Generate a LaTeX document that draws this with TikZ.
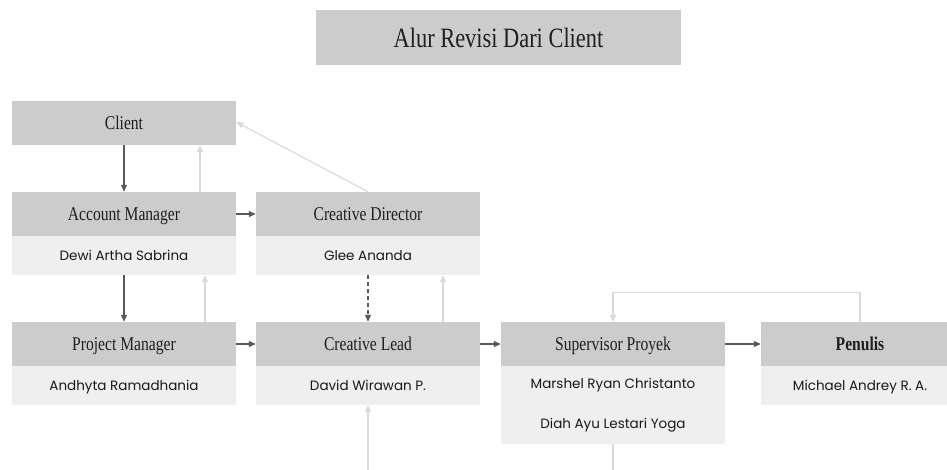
\documentclass[tikz,border=0pt]{standalone}
\usepackage{fontspec}
\usetikzlibrary{arrows.meta}
\newfontfamily\hdrfont{Liberation Serif}[FakeStretch=0.8]
\newfontfamily\subfont{Poppins}
\definecolor{hdrgray}{HTML}{CCCCCC}
\definecolor{subgray}{HTML}{EFEFEF}
\definecolor{darkln}{HTML}{595959}
\definecolor{lightln}{HTML}{DADADA}
\tikzset{
  hdr/.style={rectangle, fill=hdrgray, minimum width=224pt, minimum height=44pt, inner sep=0pt, font=\hdrfont\fontsize{19.5}{22}\selectfont, text=black!88, text height=17pt, text depth=4pt},
  subbox/.style={rectangle, fill=subgray, minimum width=224pt, minimum height=39pt, inner sep=0pt, font=\subfont\fontsize{13.5}{16}\selectfont, text=black!90, text height=12.5pt, text depth=3pt},
  darkarr/.style={draw=darkln, line width=1.2pt, -{Triangle[length=7pt,width=6pt]}},
  lightarr/.style={draw=lightln, line width=1.2pt, -{Triangle[length=7pt,width=6pt]}},
}
\begin{document}
\begin{tikzpicture}[x=1pt,y=-1pt]
\useasboundingbox (0,0) rectangle (947,470);
\clip (0,0) rectangle (947,470);
% title
\node[rectangle, fill=hdrgray, minimum width=365pt, minimum height=55pt, inner sep=0pt, font=\hdrfont\fontsize{28}{32}\selectfont, text=black!88, text height=26pt, text depth=6pt] (title) at (498.5,37.5) {Alur Revisi Dari Client};
% nodes
\node[hdr] (client) at (124,123) {Client};
\node[hdr] (am) at (124,214) {Account Manager};
\node[subbox] (ams) at (124,255.5) {Dewi Artha Sabrina};
\node[hdr] (cd) at (368,214) {Creative Director};
\node[subbox] (cds) at (368,255.5) {Glee Ananda};
\node[hdr] (pm) at (124,344) {Project Manager};
\node[subbox] (pms) at (124,385.5) {Andhyta Ramadhania};
\node[hdr] (cl) at (368,344) {Creative Lead};
\node[subbox] (cls) at (368,385.5) {David Wirawan P.};
\node[hdr] (sp) at (613,344) {Supervisor Proyek};
\node[rectangle, fill=subgray, minimum width=224pt, minimum height=78pt, inner sep=0pt, font=\subfont\fontsize{13.5}{16}\selectfont, text=black!90, align=center] (sps) at (613,405) {Marshel Ryan Christanto\\[24pt]Diah Ayu Lestari Yoga};
\node[hdr, minimum width=198pt, font=\hdrfont\bfseries\fontsize{19.5}{22}\selectfont] (pen) at (860,344) {Penulis};
\node[subbox, minimum width=198pt] (pens) at (860,385.5) {Michael Andrey R. A.};
% free ends
\coordinate (bottomCL) at (368,472);
\coordinate (bottomSP) at (613,472);
% dark arrows
\draw[darkarr] (client.south) -- (ams.north |- am.north);
\draw[darkarr] (am.east) -- (cd.west);
\draw[darkarr] (ams.south) -- (pm.north);
\draw[darkarr, dash pattern=on 4pt off 3pt] (cds.south) -- (cl.north);
\draw[darkarr] (pm.east) -- (cl.west);
\draw[darkarr] (cl.east) -- (sp.west);
\draw[darkarr] (sp.east) -- (pen.west);
% light arrows
\draw[lightarr] ([xshift=76pt]am.north) -- ([xshift=76pt]client.south);
\draw[lightarr] (cd.north) -- ([yshift=1pt]client.east);
\draw[lightarr] ([xshift=81pt]pm.north) -- ([xshift=81pt]ams.south);
\draw[lightarr] ([xshift=75pt]cl.north) -- ([xshift=75pt]cds.south);
\draw[lightarr] (pen.north) -- ++(0,-29) -| (sp.north);
\draw[lightarr] (bottomCL) -- (cls.south);
\draw[draw=lightln, line width=1.2pt] (sps.south) -- (bottomSP);
\end{tikzpicture}
\end{document}
